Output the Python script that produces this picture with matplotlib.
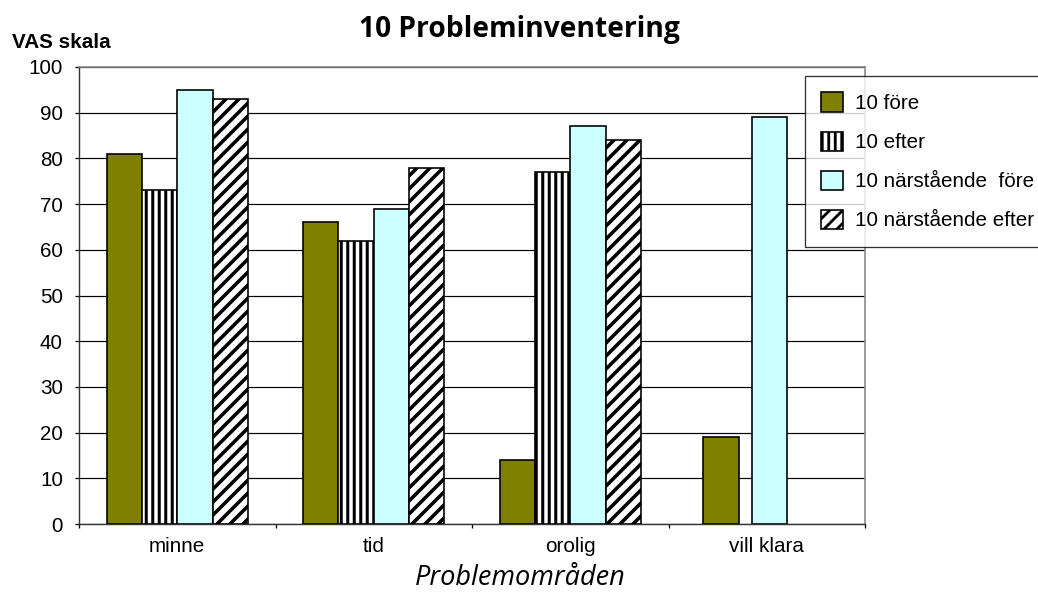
import numpy as np
import matplotlib
matplotlib.use("Agg")
import matplotlib.pyplot as plt
from matplotlib.patches import Patch

# Problem areas and VAS scores (0-100)
categories = ["minne", "tid", "orolig", "vill klara"]
series_names = ["10 före", "10 efter", "10 närstående  före", "10 närstående efter"]
fore = [81, 66, 14, 19]
efter = [73, 62, 77, np.nan]
narst_fore = [95, 69, 87, 89]
narst_efter = [93, 78, 84, np.nan]
yticks = list(range(0, 101, 10))

DPI = 78
W, H = 1038, 592
plt.rcParams["hatch.linewidth"] = 2.6
plt.rcParams["font.family"] = ["Liberation Sans", "DejaVu Sans"]

fig = plt.figure(figsize=(W / DPI, H / DPI), dpi=DPI)
ax = fig.add_axes([79 / W, 1 - 524 / H, (865 - 79) / W, (524 - 67) / H])

styles = [
    dict(facecolor="#808000", hatch=None, hlw=2.6),
    dict(facecolor="white", hatch="||", hlw=2.8),
    dict(facecolor="#ccffff", hatch=None, hlw=2.6),
    dict(facecolor="white", hatch="//", hlw=3.3),
]
values = [fore, efter, narst_fore, narst_efter]


def set_hlw(patch, lw):
    if hasattr(patch, "set_hatch_linewidth"):
        patch.set_hatch_linewidth(lw)


bw = 0.18
offsets = np.array([-1.5, -0.5, 0.5, 1.5]) * bw
# the last group holds only two bars, placed apart
last_offsets = {0: -0.232, 2: 0.013}
x = np.arange(len(categories)) + 0.5

for i, (vals, st) in enumerate(zip(values, styles)):
    xs = []
    for j in range(len(categories)):
        if j == len(categories) - 1 and i in last_offsets:
            xs.append(x[j] + last_offsets[i])
        else:
            xs.append(x[j] + offsets[i])
    with plt.rc_context({"hatch.linewidth": st["hlw"]}):
        bars = ax.bar(xs, vals, width=bw, facecolor=st["facecolor"], hatch=st["hatch"],
                      edgecolor="black", linewidth=1.5, zorder=3)
    for b in bars:
        set_hlw(b, st["hlw"])

ax.set_xlim(0, len(categories))
ax.set_ylim(0, 100)
ax.set_yticks(yticks)
ax.set_yticklabels([str(t) for t in yticks], fontsize=19)
ax.set_xticks(np.arange(len(categories) + 1))
ax.set_xticklabels([])
ax.set_xticks(x, minor=True)
ax.set_xticklabels(categories, minor=True, fontsize=19)
ax.tick_params(axis="x", which="minor", length=0, pad=12)
ax.tick_params(axis="x", which="major", length=4, width=1.2, direction="out")
ax.tick_params(axis="y", length=4, width=1.2, direction="out", pad=11)

ax.grid(axis="y", color="black", linewidth=1.1, zorder=0)
for s in ["top", "right"]:
    ax.spines[s].set_color("#888888")
    ax.spines[s].set_linewidth(1.5)
for s in ["left", "bottom"]:
    ax.spines[s].set_color("#333333")
    ax.spines[s].set_linewidth(1.3)

fig.text(519 / W, 1 - 30 / H, "10 Probleminventering", ha="center", va="center",
         fontsize=26, fontweight="bold", family=["Open Sans", "DejaVu Sans"])
fig.text(12 / W, 1 - 42 / H, "VAS skala", ha="left", va="center",
         fontsize=19, fontweight="bold")
fig.text(520 / W, 1 - 578 / H, "Problemområden", ha="center", va="center",
         fontsize=25, style="italic", family=["Open Sans", "DejaVu Sans"])

handles = []
for st in styles:
    with plt.rc_context({"hatch.linewidth": st["hlw"]}):
        p = Patch(facecolor=st["facecolor"], hatch=st["hatch"], edgecolor="black",
                  linewidth=1.5)
    set_hlw(p, st["hlw"])
    handles.append(p)

leg = fig.legend(handles, series_names, loc="upper left",
                 bbox_to_anchor=(805 / W, 1 - 76 / H), fontsize=19,
                 frameon=True, fancybox=False, edgecolor="black",
                 handlelength=1.05, handleheight=1.05, handletextpad=0.6,
                 labelspacing=0.9, borderpad=0.8, borderaxespad=0)
leg.get_frame().set_linewidth(1.2)

fig.savefig("out.png", dpi=DPI)
